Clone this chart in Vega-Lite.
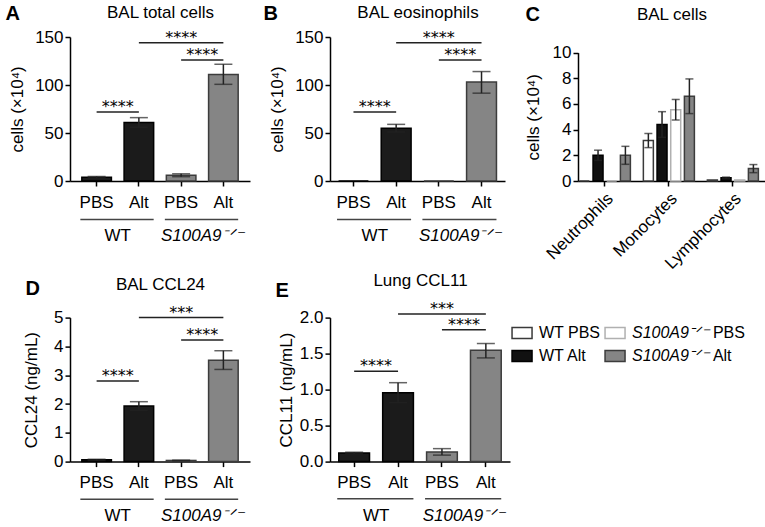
{
"$schema": "https://vega.github.io/schema/vega-lite/v6.json",
"padding": {"left": 5, "top": 3, "right": 0, "bottom": 0},
"config": {
  "font": "Liberation Sans",
  "view": {"stroke": null},
  "axis": {"labelFontSize": 17, "titleFontSize": 17, "labelColor": "#000", "titleColor": "#000", "domainColor": "#000", "tickColor": "#000", "domainWidth": 1.5, "tickWidth": 1.5, "tickSize": 5, "grid": false, "titleFontWeight": "normal", "labelFont": "Liberation Sans", "titleFont": "Liberation Sans", "labelOverlap": false},
  "axisY": {"labelPadding": 2, "labelOverlap": false},
  "text": {"color": "#000", "fontSize": 17}
},
"datasets": {
  "A": [
    {"grp": "WT PBS", "geno": "WT", "value": 4, "lo": 3.3, "hi": 4.7},
    {"grp": "WT Alt", "geno": "WT", "value": 61, "lo": 56, "hi": 66},
    {"grp": "KO PBS", "geno": "KO", "value": 6, "lo": 4.5, "hi": 7.5},
    {"grp": "KO Alt", "geno": "KO", "value": 111, "lo": 100.7, "hi": 121.6}
  ],
  "A_sig": [
    {"a": "WT PBS", "b": "WT Alt", "m": "WT Alt", "y": 72, "s": "****", "kind": "adj"},
    {"a": "KO PBS", "b": "KO Alt", "m": "KO Alt", "y": 126, "s": "****", "kind": "adj"},
    {"a": "WT Alt", "b": "KO Alt", "m": "KO PBS", "y": 144, "s": "****", "kind": "long"}
  ],
  "B": [
    {"grp": "WT PBS", "geno": "WT", "value": 0, "lo": null, "hi": null},
    {"grp": "WT Alt", "geno": "WT", "value": 55, "lo": 51, "hi": 59},
    {"grp": "KO PBS", "geno": "KO", "value": 0, "lo": null, "hi": null},
    {"grp": "KO Alt", "geno": "KO", "value": 103, "lo": 91.5, "hi": 114}
  ],
  "B_sig": [
    {"a": "WT PBS", "b": "WT Alt", "m": "WT Alt", "y": 72, "s": "****", "kind": "adj"},
    {"a": "KO PBS", "b": "KO Alt", "m": "KO Alt", "y": 126, "s": "****", "kind": "adj"},
    {"a": "WT Alt", "b": "KO Alt", "m": "KO PBS", "y": 144, "s": "****", "kind": "long"}
  ],
  "C": [
    {"cell": "Neutrophils", "grp": "WT PBS", "value": 0, "lo": null, "hi": null},
    {"cell": "Neutrophils", "grp": "WT Alt", "value": 2.0, "lo": 1.6, "hi": 2.4},
    {"cell": "Neutrophils", "grp": "KO PBS", "value": 0, "lo": null, "hi": null},
    {"cell": "Neutrophils", "grp": "KO Alt", "value": 2.0, "lo": 1.3, "hi": 2.7},
    {"cell": "Monocytes", "grp": "WT PBS", "value": 3.15, "lo": 2.6, "hi": 3.7},
    {"cell": "Monocytes", "grp": "WT Alt", "value": 4.4, "lo": 3.4, "hi": 5.4},
    {"cell": "Monocytes", "grp": "KO PBS", "value": 5.55, "lo": 4.75, "hi": 6.35},
    {"cell": "Monocytes", "grp": "KO Alt", "value": 6.6, "lo": 5.25, "hi": 7.95},
    {"cell": "Lymphocytes", "grp": "WT PBS", "value": 0.08, "lo": null, "hi": null},
    {"cell": "Lymphocytes", "grp": "WT Alt", "value": 0.25, "lo": 0.2, "hi": 0.3},
    {"cell": "Lymphocytes", "grp": "KO PBS", "value": 0.08, "lo": null, "hi": null},
    {"cell": "Lymphocytes", "grp": "KO Alt", "value": 0.97, "lo": 0.65, "hi": 1.28}
  ],
  "D": [
    {"grp": "WT PBS", "geno": "WT", "value": 0.06, "lo": 0.04, "hi": 0.08},
    {"grp": "WT Alt", "geno": "WT", "value": 1.93, "lo": 1.78, "hi": 2.08},
    {"grp": "KO PBS", "geno": "KO", "value": 0.04, "lo": 0.03, "hi": 0.05},
    {"grp": "KO Alt", "geno": "KO", "value": 3.52, "lo": 3.2, "hi": 3.85}
  ],
  "D_sig": [
    {"a": "WT PBS", "b": "WT Alt", "m": "WT Alt", "y": 2.8, "s": "****", "kind": "adj"},
    {"a": "KO PBS", "b": "KO Alt", "m": "KO Alt", "y": 4.22, "s": "****", "kind": "adj"},
    {"a": "WT Alt", "b": "KO Alt", "m": "KO PBS", "y": 5.0, "s": "***", "kind": "long"}
  ],
  "E": [
    {"grp": "WT PBS", "geno": "WT", "value": 0.12, "lo": 0.11, "hi": 0.13},
    {"grp": "WT Alt", "geno": "WT", "value": 0.955, "lo": 0.82, "hi": 1.096},
    {"grp": "KO PBS", "geno": "KO", "value": 0.135, "lo": 0.09, "hi": 0.18},
    {"grp": "KO Alt", "geno": "KO", "value": 1.545, "lo": 1.44, "hi": 1.64}
  ],
  "E_sig": [
    {"a": "WT PBS", "b": "WT Alt", "m": "WT Alt", "y": 1.254, "s": "****", "kind": "adj"},
    {"a": "KO PBS", "b": "KO Alt", "m": "KO Alt", "y": 1.83, "s": "****", "kind": "adj"},
    {"a": "WT Alt", "b": "KO Alt", "m": "KO PBS", "y": 2.05, "s": "***", "kind": "long"}
  ],
  "grp": [
    {"a": "WT PBS", "b": "WT Alt", "lab": "WT", "geno": "WT"},
    {"a": "KO PBS", "b": "KO Alt", "lab": "S100A9⁻ᐟ⁻", "geno": "KO"}
  ],
  "leg": [
    {"col": "WT", "row": "PBS", "key": "WT PBS", "gene": "WT PBS", "treat": ""},
    {"col": "WT", "row": "Alt", "key": "WT Alt", "gene": "WT Alt", "treat": ""},
    {"col": "KO", "row": "PBS", "key": "KO PBS", "gene": "S100A9⁻ᐟ⁻", "treat": "PBS"},
    {"col": "KO", "row": "Alt", "key": "KO Alt", "gene": "S100A9⁻ᐟ⁻", "treat": "Alt"}
  ]
},
"concat": [
  {
    "width": 180, "height": 144,
    "resolve": {"axis": {"x": "independent"}},
    "layer": [
      {"data": {"name": "A"}, "mark": {"type": "bar", "strokeWidth": 1.5},
       "encoding": {
         "x": {"field": "grp", "type": "nominal", "scale": {"domain": ["WT PBS", "WT Alt", "KO PBS", "KO Alt"], "paddingInner": 0.3, "paddingOuter": 0.28}, "axis": {"orient": "bottom", "title": null, "labelExpr": "slice(datum.label, -3)", "labelAngle": 0, "labelPadding": 8}},
         "y": {"field": "value", "type": "quantitative", "scale": {"domain": [0, 150], "nice": false}, "axis": {"values": [0, 50, 100, 150], "labelOverlap": false, "title": "cells (×10⁴)", "titlePadding": 8}},
         "fill": {"field": "geno", "type": "nominal", "scale": {"domain": ["WT", "KO"], "range": ["#1b1b1b", "#858585"]}, "legend": null},
         "stroke": {"field": "geno", "type": "nominal", "scale": {"domain": ["WT", "KO"], "range": ["#000000", "#3c3c3c"]}, "legend": null}}},
      {"data": {"name": "A"}, "mark": {"type": "rule", "color": "#222", "strokeWidth": 1.5},
       "encoding": {"x": {"field": "grp", "type": "nominal", "axis": {"orient": "top", "title": "A", "labels": false, "ticks": false, "domain": false, "titleX": -65, "titleY": -17.7, "titleAlign": "left", "titleBaseline": "alphabetic", "titleAngle": 0, "titleFontSize": 20, "titleFontWeight": "bold"}}, "y": {"field": "lo", "type": "quantitative", "axis": {"values": [0, 50, 100, 150], "labelOverlap": false, "title": "cells (×10⁴)", "titlePadding": 8}}, "y2": {"field": "hi"}}},
      {"data": {"name": "A"}, "mark": {"type": "tick", "color": "#222", "thickness": 1.5, "size": 18, "orient": "horizontal"},
       "encoding": {"x": {"field": "grp", "type": "nominal", "axis": null}, "y": {"field": "hi", "type": "quantitative", "axis": {"values": [0, 50, 100, 150], "labelOverlap": false, "title": "cells (×10⁴)", "titlePadding": 8}}}},
      {"data": {"name": "A"}, "mark": {"type": "tick", "color": "#222", "thickness": 1.5, "size": 18, "orient": "horizontal"},
       "encoding": {"x": {"field": "grp", "type": "nominal", "axis": null}, "y": {"field": "lo", "type": "quantitative", "axis": {"values": [0, 50, 100, 150], "labelOverlap": false, "title": "cells (×10⁴)", "titlePadding": 8}}}},
      {"data": {"name": "A_sig"}, "mark": {"type": "rule", "color": "#222", "strokeWidth": 1.5},
       "encoding": {"x": {"field": "a", "type": "nominal", "axis": {"orient": "top", "title": "BAL total cells", "labels": false, "ticks": false, "domain": false, "titlePadding": 15.8}}, "x2": {"field": "b"}, "y": {"field": "y", "type": "quantitative", "axis": {"values": [0, 50, 100, 150], "labelOverlap": false, "title": "cells (×10⁴)", "titlePadding": 8}}}},
      {"data": {"name": "A_sig"}, "transform": [{"filter": "datum.kind == 'adj'"}], "mark": {"type": "text", "font": "DejaVu Sans", "fontSize": 16, "baseline": "alphabetic"},
       "encoding": {"x": {"field": "m", "type": "nominal", "bandPosition": -0.214, "axis": null}, "y": {"field": "y", "type": "quantitative", "axis": {"values": [0, 50, 100, 150], "labelOverlap": false, "title": "cells (×10⁴)", "titlePadding": 8}}, "text": {"field": "s"}}},
      {"data": {"name": "A_sig"}, "transform": [{"filter": "datum.kind == 'long'"}], "mark": {"type": "text", "font": "DejaVu Sans", "fontSize": 16, "baseline": "alphabetic"},
       "encoding": {"x": {"field": "m", "type": "nominal", "axis": null}, "y": {"field": "y", "type": "quantitative", "axis": {"values": [0, 50, 100, 150], "labelOverlap": false, "title": "cells (×10⁴)", "titlePadding": 8}}, "text": {"field": "s"}}},
      {"data": {"name": "grp"}, "mark": {"type": "rule", "color": "#444", "strokeWidth": 1.5},
       "encoding": {"x": {"field": "a", "type": "nominal", "bandPosition": -0.05, "axis": null}, "x2": {"field": "b", "bandPosition": 1}, "y": {"datum": -40, "axis": {"values": [0, 50, 100, 150], "labelOverlap": false, "title": "cells (×10⁴)", "titlePadding": 8}}}},
      {"data": {"name": "grp"}, "transform": [{"filter": "datum.geno == 'WT'"}], "mark": {"type": "text", "fontSize": 17, "baseline": "middle"},
       "encoding": {"x": {"field": "b", "type": "nominal", "bandPosition": -0.214, "axis": null}, "y": {"datum": -57.3, "axis": {"values": [0, 50, 100, 150], "labelOverlap": false, "title": "cells (×10⁴)", "titlePadding": 8}}, "text": {"field": "lab"}}},
      {"data": {"name": "grp"}, "transform": [{"filter": "datum.geno == 'KO'"}], "mark": {"type": "text", "fontSize": 17, "baseline": "middle", "fontStyle": "italic"},
       "encoding": {"x": {"field": "b", "type": "nominal", "bandPosition": -0.214, "axis": null}, "y": {"datum": -57.3, "axis": {"values": [0, 50, 100, 150], "labelOverlap": false, "title": "cells (×10⁴)", "titlePadding": 8}}, "text": {"field": "lab"}}}
    ]
  },
  {"width": 80, "height": 1, "data": {"values": []}, "mark": "point", "encoding": {}},
  {
    "width": 175, "height": 144,
    "resolve": {"axis": {"x": "independent"}},
    "layer": [
      {"data": {"name": "B"}, "mark": {"type": "bar", "strokeWidth": 1.5},
       "encoding": {
         "x": {"field": "grp", "type": "nominal", "scale": {"domain": ["WT PBS", "WT Alt", "KO PBS", "KO Alt"], "paddingInner": 0.3, "paddingOuter": 0.2}, "axis": {"orient": "bottom", "title": null, "labelExpr": "slice(datum.label, -3)", "labelAngle": 0, "labelPadding": 8}},
         "y": {"field": "value", "type": "quantitative", "scale": {"domain": [0, 150], "nice": false}, "axis": {"values": [0, 50, 100, 150], "labelOverlap": false, "title": "cells (×10⁴)", "titlePadding": 8}},
         "fill": {"field": "geno", "type": "nominal", "scale": {"domain": ["WT", "KO"], "range": ["#1b1b1b", "#858585"]}, "legend": null},
         "stroke": {"field": "geno", "type": "nominal", "scale": {"domain": ["WT", "KO"], "range": ["#000000", "#3c3c3c"]}, "legend": null}}},
      {"data": {"name": "B"}, "mark": {"type": "rule", "color": "#222", "strokeWidth": 1.5},
       "encoding": {"x": {"field": "grp", "type": "nominal", "axis": {"orient": "top", "title": "B", "labels": false, "ticks": false, "domain": false, "titleX": -67, "titleY": -17.7, "titleAlign": "left", "titleBaseline": "alphabetic", "titleAngle": 0, "titleFontSize": 20, "titleFontWeight": "bold"}}, "y": {"field": "lo", "type": "quantitative", "axis": {"values": [0, 50, 100, 150], "labelOverlap": false, "title": "cells (×10⁴)", "titlePadding": 8}}, "y2": {"field": "hi"}}},
      {"data": {"name": "B"}, "mark": {"type": "tick", "color": "#222", "thickness": 1.5, "size": 18, "orient": "horizontal"},
       "encoding": {"x": {"field": "grp", "type": "nominal", "axis": null}, "y": {"field": "hi", "type": "quantitative", "axis": {"values": [0, 50, 100, 150], "labelOverlap": false, "title": "cells (×10⁴)", "titlePadding": 8}}}},
      {"data": {"name": "B"}, "mark": {"type": "tick", "color": "#222", "thickness": 1.5, "size": 18, "orient": "horizontal"},
       "encoding": {"x": {"field": "grp", "type": "nominal", "axis": null}, "y": {"field": "lo", "type": "quantitative", "axis": {"values": [0, 50, 100, 150], "labelOverlap": false, "title": "cells (×10⁴)", "titlePadding": 8}}}},
      {"data": {"name": "B_sig"}, "mark": {"type": "rule", "color": "#222", "strokeWidth": 1.5},
       "encoding": {"x": {"field": "a", "type": "nominal", "axis": {"orient": "top", "title": "BAL eosinophils", "labels": false, "ticks": false, "domain": false, "titlePadding": 15.8}}, "x2": {"field": "b"}, "y": {"field": "y", "type": "quantitative", "axis": {"values": [0, 50, 100, 150], "labelOverlap": false, "title": "cells (×10⁴)", "titlePadding": 8}}}},
      {"data": {"name": "B_sig"}, "transform": [{"filter": "datum.kind == 'adj'"}], "mark": {"type": "text", "font": "DejaVu Sans", "fontSize": 16, "baseline": "alphabetic"},
       "encoding": {"x": {"field": "m", "type": "nominal", "bandPosition": -0.214, "axis": null}, "y": {"field": "y", "type": "quantitative", "axis": {"values": [0, 50, 100, 150], "labelOverlap": false, "title": "cells (×10⁴)", "titlePadding": 8}}, "text": {"field": "s"}}},
      {"data": {"name": "B_sig"}, "transform": [{"filter": "datum.kind == 'long'"}], "mark": {"type": "text", "font": "DejaVu Sans", "fontSize": 16, "baseline": "alphabetic"},
       "encoding": {"x": {"field": "m", "type": "nominal", "axis": null}, "y": {"field": "y", "type": "quantitative", "axis": {"values": [0, 50, 100, 150], "labelOverlap": false, "title": "cells (×10⁴)", "titlePadding": 8}}, "text": {"field": "s"}}},
      {"data": {"name": "grp"}, "mark": {"type": "rule", "color": "#444", "strokeWidth": 1.5},
       "encoding": {"x": {"field": "a", "type": "nominal", "bandPosition": -0.05, "axis": null}, "x2": {"field": "b", "bandPosition": 1}, "y": {"datum": -40, "axis": {"values": [0, 50, 100, 150], "labelOverlap": false, "title": "cells (×10⁴)", "titlePadding": 8}}}},
      {"data": {"name": "grp"}, "transform": [{"filter": "datum.geno == 'WT'"}], "mark": {"type": "text", "fontSize": 17, "baseline": "middle"},
       "encoding": {"x": {"field": "b", "type": "nominal", "bandPosition": -0.214, "axis": null}, "y": {"datum": -57.3, "axis": {"values": [0, 50, 100, 150], "labelOverlap": false, "title": "cells (×10⁴)", "titlePadding": 8}}, "text": {"field": "lab"}}},
      {"data": {"name": "grp"}, "transform": [{"filter": "datum.geno == 'KO'"}], "mark": {"type": "text", "fontSize": 17, "baseline": "middle", "fontStyle": "italic"},
       "encoding": {"x": {"field": "b", "type": "nominal", "bandPosition": -0.214, "axis": null}, "y": {"datum": -57.3, "axis": {"values": [0, 50, 100, 150], "labelOverlap": false, "title": "cells (×10⁴)", "titlePadding": 8}}, "text": {"field": "lab"}}}
    ]
  },
  {"width": 68, "height": 1, "data": {"values": []}, "mark": "point", "encoding": {}},
  {
    "width": 187, "height": 144,
    "resolve": {"axis": {"x": "independent"}},
    "data": {"name": "C"},
    "layer": [
      {"mark": {"type": "bar", "strokeWidth": 1.5},
       "encoding": {
         "x": {"field": "cell", "type": "nominal", "scale": {"domain": ["Neutrophils", "Monocytes", "Lymphocytes"], "paddingInner": 0.16, "paddingOuter": 0.041, "align": 0}, "axis": {"orient": "bottom", "title": null, "labelAngle": -45, "labelPadding": 4}},
         "xOffset": {"field": "grp", "type": "nominal", "scale": {"domain": ["WT PBS", "WT Alt", "KO PBS", "KO Alt"], "paddingInner": 0.27, "paddingOuter": 0.1}},
         "y": {"field": "value", "type": "quantitative", "scale": {"domain": [0, 10], "nice": false, "range": [144, 15.6]}, "axis": {"values": [0, 2, 4, 6, 8, 10], "labelOverlap": false, "title": "cells (×10⁴)", "titlePadding": 10}},
         "fill": {"field": "grp", "type": "nominal", "scale": {"domain": ["WT PBS", "WT Alt", "KO PBS", "KO Alt"], "range": ["#ffffff", "#111111", "#ffffff", "#858585"]}, "legend": null},
         "stroke": {"field": "grp", "type": "nominal", "scale": {"domain": ["WT PBS", "WT Alt", "KO PBS", "KO Alt"], "range": ["#3a3a3a", "#000000", "#b0b0b0", "#3c3c3c"]}, "legend": null}}},
      {"mark": {"type": "rule", "color": "#222", "strokeWidth": 1.5},
       "encoding": {"x": {"field": "cell", "type": "nominal", "axis": {"orient": "top", "title": "BAL cells", "labels": false, "ticks": false, "domain": false, "titlePadding": 14}}, "xOffset": {"field": "grp", "type": "nominal"}, "y": {"field": "lo", "type": "quantitative", "axis": {"values": [0, 2, 4, 6, 8, 10], "labelOverlap": false, "title": "cells (×10⁴)", "titlePadding": 10}}, "y2": {"field": "hi"}}},
      {"mark": {"type": "tick", "color": "#222", "thickness": 1.5, "size": 8, "orient": "horizontal"},
       "encoding": {"x": {"field": "cell", "type": "nominal", "axis": {"orient": "top", "title": "C", "labels": false, "ticks": false, "domain": false, "titleX": -53, "titleY": -16.7, "titleAlign": "left", "titleBaseline": "alphabetic", "titleAngle": 0, "titleFontSize": 20, "titleFontWeight": "bold"}}, "xOffset": {"field": "grp", "type": "nominal"}, "y": {"field": "hi", "type": "quantitative", "axis": {"values": [0, 2, 4, 6, 8, 10], "labelOverlap": false, "title": "cells (×10⁴)", "titlePadding": 10}}}},
      {"mark": {"type": "tick", "color": "#222", "thickness": 1.5, "size": 8, "orient": "horizontal"},
       "encoding": {"x": {"field": "cell", "type": "nominal", "axis": null}, "xOffset": {"field": "grp", "type": "nominal"}, "y": {"field": "lo", "type": "quantitative", "axis": {"values": [0, 2, 4, 6, 8, 10], "labelOverlap": false, "title": "cells (×10⁴)", "titlePadding": 10}}}}
    ]
  },
  {
    "width": 180, "height": 144,
    "resolve": {"axis": {"x": "independent"}},
    "layer": [
      {"data": {"name": "D"}, "mark": {"type": "bar", "strokeWidth": 1.5},
       "encoding": {
         "x": {"field": "grp", "type": "nominal", "scale": {"domain": ["WT PBS", "WT Alt", "KO PBS", "KO Alt"], "paddingInner": 0.3, "paddingOuter": 0.28}, "axis": {"orient": "bottom", "title": null, "labelExpr": "slice(datum.label, -3)", "labelAngle": 0, "labelPadding": 8}},
         "y": {"field": "value", "type": "quantitative", "scale": {"domain": [0, 5], "nice": false}, "axis": {"values": [0, 1, 2, 3, 4, 5], "labelOverlap": false, "title": "CCL24 (ng/mL)", "titlePadding": 13}},
         "fill": {"field": "geno", "type": "nominal", "scale": {"domain": ["WT", "KO"], "range": ["#1b1b1b", "#858585"]}, "legend": null},
         "stroke": {"field": "geno", "type": "nominal", "scale": {"domain": ["WT", "KO"], "range": ["#000000", "#3c3c3c"]}, "legend": null}}},
      {"data": {"name": "D"}, "mark": {"type": "rule", "color": "#222", "strokeWidth": 1.5},
       "encoding": {"x": {"field": "grp", "type": "nominal", "axis": {"orient": "top", "title": "D", "labels": false, "ticks": false, "domain": false, "titleX": -45, "titleY": -23.3, "titleAlign": "left", "titleBaseline": "alphabetic", "titleAngle": 0, "titleFontSize": 20, "titleFontWeight": "bold"}}, "y": {"field": "lo", "type": "quantitative", "axis": {"values": [0, 1, 2, 3, 4, 5], "labelOverlap": false, "title": "CCL24 (ng/mL)", "titlePadding": 13}}, "y2": {"field": "hi"}}},
      {"data": {"name": "D"}, "mark": {"type": "tick", "color": "#222", "thickness": 1.5, "size": 18, "orient": "horizontal"},
       "encoding": {"x": {"field": "grp", "type": "nominal", "axis": null}, "y": {"field": "hi", "type": "quantitative", "axis": {"values": [0, 1, 2, 3, 4, 5], "labelOverlap": false, "title": "CCL24 (ng/mL)", "titlePadding": 13}}}},
      {"data": {"name": "D"}, "mark": {"type": "tick", "color": "#222", "thickness": 1.5, "size": 18, "orient": "horizontal"},
       "encoding": {"x": {"field": "grp", "type": "nominal", "axis": null}, "y": {"field": "lo", "type": "quantitative", "axis": {"values": [0, 1, 2, 3, 4, 5], "labelOverlap": false, "title": "CCL24 (ng/mL)", "titlePadding": 13}}}},
      {"data": {"name": "D_sig"}, "mark": {"type": "rule", "color": "#222", "strokeWidth": 1.5},
       "encoding": {"x": {"field": "a", "type": "nominal", "axis": {"orient": "top", "title": "BAL CCL24", "labels": false, "ticks": false, "domain": false, "titlePadding": 24.5}}, "x2": {"field": "b"}, "y": {"field": "y", "type": "quantitative", "axis": {"values": [0, 1, 2, 3, 4, 5], "labelOverlap": false, "title": "CCL24 (ng/mL)", "titlePadding": 13}}}},
      {"data": {"name": "D_sig"}, "transform": [{"filter": "datum.kind == 'adj'"}], "mark": {"type": "text", "font": "DejaVu Sans", "fontSize": 16, "baseline": "alphabetic"},
       "encoding": {"x": {"field": "m", "type": "nominal", "bandPosition": -0.214, "axis": null}, "y": {"field": "y", "type": "quantitative", "axis": {"values": [0, 1, 2, 3, 4, 5], "labelOverlap": false, "title": "CCL24 (ng/mL)", "titlePadding": 13}}, "text": {"field": "s"}}},
      {"data": {"name": "D_sig"}, "transform": [{"filter": "datum.kind == 'long'"}], "mark": {"type": "text", "font": "DejaVu Sans", "fontSize": 16, "baseline": "alphabetic"},
       "encoding": {"x": {"field": "m", "type": "nominal", "axis": null}, "y": {"field": "y", "type": "quantitative", "axis": {"values": [0, 1, 2, 3, 4, 5], "labelOverlap": false, "title": "CCL24 (ng/mL)", "titlePadding": 13}}, "text": {"field": "s"}}},
      {"data": {"name": "grp"}, "mark": {"type": "rule", "color": "#444", "strokeWidth": 1.5},
       "encoding": {"x": {"field": "a", "type": "nominal", "bandPosition": -0.05, "axis": null}, "x2": {"field": "b", "bandPosition": 1}, "y": {"datum": -1.31, "axis": {"values": [0, 1, 2, 3, 4, 5], "labelOverlap": false, "title": "CCL24 (ng/mL)", "titlePadding": 13}}}},
      {"data": {"name": "grp"}, "transform": [{"filter": "datum.geno == 'WT'"}], "mark": {"type": "text", "fontSize": 17, "baseline": "middle"},
       "encoding": {"x": {"field": "b", "type": "nominal", "bandPosition": -0.214, "axis": null}, "y": {"datum": -1.89, "axis": {"values": [0, 1, 2, 3, 4, 5], "labelOverlap": false, "title": "CCL24 (ng/mL)", "titlePadding": 13}}, "text": {"field": "lab"}}},
      {"data": {"name": "grp"}, "transform": [{"filter": "datum.geno == 'KO'"}], "mark": {"type": "text", "fontSize": 17, "baseline": "middle", "fontStyle": "italic"},
       "encoding": {"x": {"field": "b", "type": "nominal", "bandPosition": -0.214, "axis": null}, "y": {"datum": -1.89, "axis": {"values": [0, 1, 2, 3, 4, 5], "labelOverlap": false, "title": "CCL24 (ng/mL)", "titlePadding": 13}}, "text": {"field": "lab"}}}
    ]
  },
  {"width": 80, "height": 1, "data": {"values": []}, "mark": "point", "encoding": {}},
  {
    "width": 180, "height": 144,
    "resolve": {"axis": {"x": "independent"}},
    "layer": [
      {"data": {"name": "E"}, "mark": {"type": "bar", "strokeWidth": 1.5},
       "encoding": {
         "x": {"field": "grp", "type": "nominal", "scale": {"domain": ["WT PBS", "WT Alt", "KO PBS", "KO Alt"], "paddingInner": 0.3, "paddingOuter": 0.2}, "axis": {"orient": "bottom", "title": null, "labelExpr": "slice(datum.label, -3)", "labelAngle": 0, "labelPadding": 8}},
         "y": {"field": "value", "type": "quantitative", "scale": {"domain": [0, 2], "nice": false}, "axis": {"values": [0, 0.5, 1, 1.5, 2], "labelOverlap": false, "format": ".1f", "title": "CCL11 (ng/mL)", "titlePadding": 4}},
         "fill": {"field": "geno", "type": "nominal", "scale": {"domain": ["WT", "KO"], "range": ["#1b1b1b", "#858585"]}, "legend": null},
         "stroke": {"field": "geno", "type": "nominal", "scale": {"domain": ["WT", "KO"], "range": ["#000000", "#3c3c3c"]}, "legend": null}}},
      {"data": {"name": "E"}, "mark": {"type": "rule", "color": "#222", "strokeWidth": 1.5},
       "encoding": {"x": {"field": "grp", "type": "nominal", "axis": {"orient": "top", "title": "E", "labels": false, "ticks": false, "domain": false, "titleX": -55, "titleY": -21.6, "titleAlign": "left", "titleBaseline": "alphabetic", "titleAngle": 0, "titleFontSize": 20, "titleFontWeight": "bold"}}, "y": {"field": "lo", "type": "quantitative", "axis": {"values": [0, 0.5, 1, 1.5, 2], "labelOverlap": false, "format": ".1f", "title": "CCL11 (ng/mL)", "titlePadding": 4}}, "y2": {"field": "hi"}}},
      {"data": {"name": "E"}, "mark": {"type": "tick", "color": "#222", "thickness": 1.5, "size": 18, "orient": "horizontal"},
       "encoding": {"x": {"field": "grp", "type": "nominal", "axis": null}, "y": {"field": "hi", "type": "quantitative", "axis": {"values": [0, 0.5, 1, 1.5, 2], "labelOverlap": false, "format": ".1f", "title": "CCL11 (ng/mL)", "titlePadding": 4}}}},
      {"data": {"name": "E"}, "mark": {"type": "tick", "color": "#222", "thickness": 1.5, "size": 18, "orient": "horizontal"},
       "encoding": {"x": {"field": "grp", "type": "nominal", "axis": null}, "y": {"field": "lo", "type": "quantitative", "axis": {"values": [0, 0.5, 1, 1.5, 2], "labelOverlap": false, "format": ".1f", "title": "CCL11 (ng/mL)", "titlePadding": 4}}}},
      {"data": {"name": "E_sig"}, "mark": {"type": "rule", "color": "#222", "strokeWidth": 1.5},
       "encoding": {"x": {"field": "a", "type": "nominal", "axis": {"orient": "top", "title": "Lung CCL11", "labels": false, "ticks": false, "domain": false, "titlePadding": 28}}, "x2": {"field": "b"}, "y": {"field": "y", "type": "quantitative", "axis": {"values": [0, 0.5, 1, 1.5, 2], "labelOverlap": false, "format": ".1f", "title": "CCL11 (ng/mL)", "titlePadding": 4}}}},
      {"data": {"name": "E_sig"}, "transform": [{"filter": "datum.kind == 'adj'"}], "mark": {"type": "text", "font": "DejaVu Sans", "fontSize": 16, "baseline": "alphabetic"},
       "encoding": {"x": {"field": "m", "type": "nominal", "bandPosition": -0.214, "axis": null}, "y": {"field": "y", "type": "quantitative", "axis": {"values": [0, 0.5, 1, 1.5, 2], "labelOverlap": false, "format": ".1f", "title": "CCL11 (ng/mL)", "titlePadding": 4}}, "text": {"field": "s"}}},
      {"data": {"name": "E_sig"}, "transform": [{"filter": "datum.kind == 'long'"}], "mark": {"type": "text", "font": "DejaVu Sans", "fontSize": 16, "baseline": "alphabetic"},
       "encoding": {"x": {"field": "m", "type": "nominal", "axis": null}, "y": {"field": "y", "type": "quantitative", "axis": {"values": [0, 0.5, 1, 1.5, 2], "labelOverlap": false, "format": ".1f", "title": "CCL11 (ng/mL)", "titlePadding": 4}}, "text": {"field": "s"}}},
      {"data": {"name": "grp"}, "mark": {"type": "rule", "color": "#444", "strokeWidth": 1.5},
       "encoding": {"x": {"field": "a", "type": "nominal", "bandPosition": -0.05, "axis": null}, "x2": {"field": "b", "bandPosition": 1}, "y": {"datum": -0.517, "axis": {"values": [0, 0.5, 1, 1.5, 2], "labelOverlap": false, "format": ".1f", "title": "CCL11 (ng/mL)", "titlePadding": 4}}}},
      {"data": {"name": "grp"}, "transform": [{"filter": "datum.geno == 'WT'"}], "mark": {"type": "text", "fontSize": 17, "baseline": "middle"},
       "encoding": {"x": {"field": "b", "type": "nominal", "bandPosition": -0.214, "axis": null}, "y": {"datum": -0.76, "axis": {"values": [0, 0.5, 1, 1.5, 2], "labelOverlap": false, "format": ".1f", "title": "CCL11 (ng/mL)", "titlePadding": 4}}, "text": {"field": "lab"}}},
      {"data": {"name": "grp"}, "transform": [{"filter": "datum.geno == 'KO'"}], "mark": {"type": "text", "fontSize": 17, "baseline": "middle", "fontStyle": "italic"},
       "encoding": {"x": {"field": "b", "type": "nominal", "bandPosition": -0.214, "axis": null}, "y": {"datum": -0.76, "axis": {"values": [0, 0.5, 1, 1.5, 2], "labelOverlap": false, "format": ".1f", "title": "CCL11 (ng/mL)", "titlePadding": 4}}, "text": {"field": "lab"}}}
    ]
  },
  {"width": 68, "height": 1, "data": {"values": []}, "mark": "point", "encoding": {}},
  {
    "width": 187, "height": 54,
    "data": {"name": "leg"},
    "layer": [
      {"mark": {"type": "point", "shape": "M-1,-0.55H1V0.55H-1Z", "filled": true, "size": 400, "strokeWidth": 1.5, "opacity": 1},
       "encoding": {
         "x": {"field": "col", "type": "nominal", "bandPosition": 0.108, "scale": {"type": "band", "domain": ["WT", "KO"], "paddingInner": 0, "paddingOuter": 0, "range": [-66, 120]}, "axis": null},
         "y": {"field": "row", "type": "nominal", "scale": {"type": "point", "domain": ["PBS", "Alt"], "padding": 0.674}, "axis": null},
         "fill": {"field": "key", "type": "nominal", "scale": {"domain": ["WT PBS", "WT Alt", "KO PBS", "KO Alt"], "range": ["#ffffff", "#111111", "#ffffff", "#858585"]}, "legend": null},
         "stroke": {"field": "key", "type": "nominal", "scale": {"domain": ["WT PBS", "WT Alt", "KO PBS", "KO Alt"], "range": ["#3a3a3a", "#000000", "#b0b0b0", "#3c3c3c"]}, "legend": null}}},
      {"transform": [{"filter": "datum.col == 'WT'"}], "mark": {"type": "text", "fontSize": 16, "align": "left", "baseline": "middle"},
       "encoding": {"x": {"field": "col", "type": "nominal", "bandPosition": 0.29, "axis": null}, "y": {"field": "row", "type": "nominal", "axis": null}, "text": {"field": "gene"}}},
      {"transform": [{"filter": "datum.col == 'KO'"}], "mark": {"type": "text", "fontSize": 16, "align": "left", "baseline": "middle", "fontStyle": "italic"},
       "encoding": {"x": {"field": "col", "type": "nominal", "bandPosition": 0.29, "axis": null}, "y": {"field": "row", "type": "nominal", "axis": null}, "text": {"field": "gene"}}},
      {"transform": [{"filter": "datum.col == 'KO'"}], "mark": {"type": "text", "fontSize": 16, "align": "left", "baseline": "middle"},
       "encoding": {"x": {"field": "col", "type": "nominal", "bandPosition": 1.16, "axis": null}, "y": {"field": "row", "type": "nominal", "axis": null}, "text": {"field": "treat"}}}
    ]
  }
],
"columns": 5,
"bounds": "flush",
"spacing": {"row": 136.6, "column": 0},
"resolve": {"scale": {"fill": "independent", "stroke": "independent"}}
}
